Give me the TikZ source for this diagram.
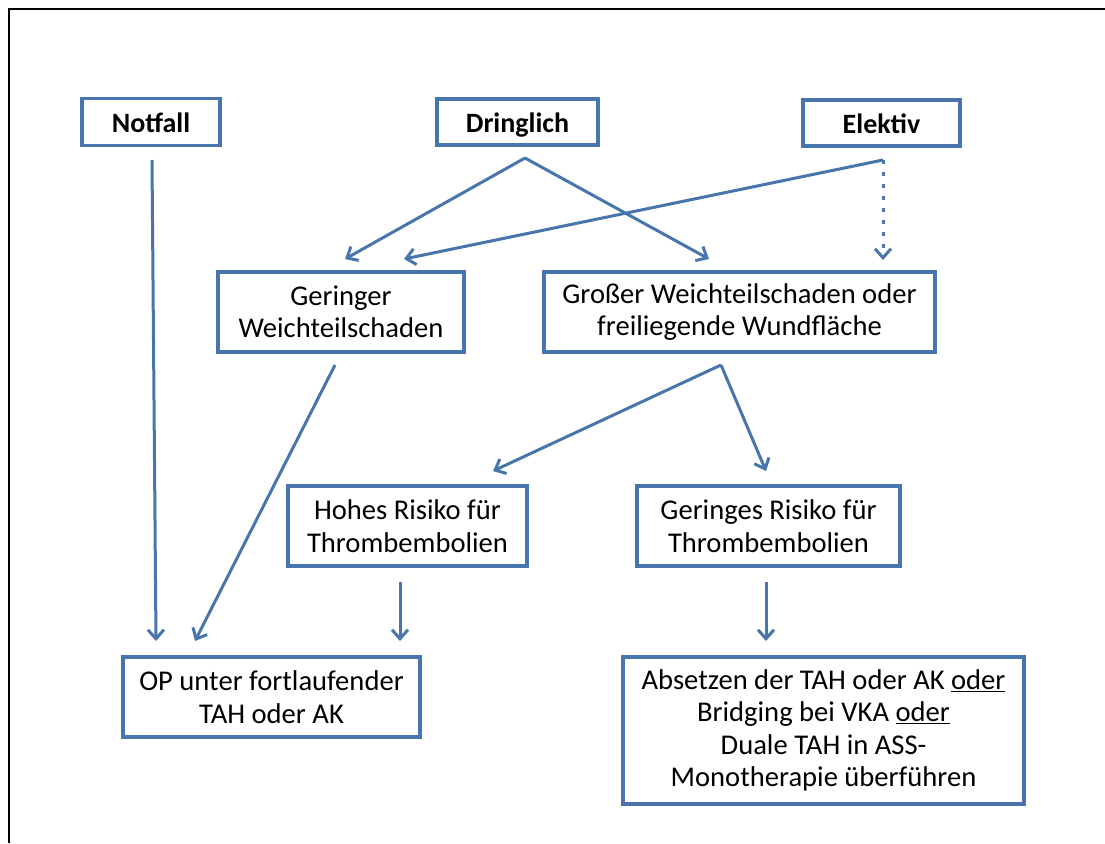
\documentclass[tikz,border=0pt]{standalone}
\usepackage{fontspec}
\setmainfont{Carlito}
\usetikzlibrary{arrows.meta}
\definecolor{boxblue}{RGB}{72,118,172}
\tikzset{
  box/.style={draw=boxblue, line width=3.4pt, rectangle, inner sep=0pt, align=center,
    font=\fontsize{28.6}{32.5}\selectfont},
  hbox/.style={box, text height=20pt, text depth=0pt, font=\fontsize{28}{32.5}\selectfont\bfseries},
  conn/.style={draw=boxblue, line width=3pt, -{Straight Barb[length=9pt,width=16pt,line width=3pt]}},
  dotconn/.style={conn, dash pattern=on 3.5pt off 8.5pt},
}
\begin{document}
\begin{tikzpicture}[x=1pt,y=-1pt]
\useasboundingbox (0,0) rectangle (1105,843);
\draw[line width=2.5pt] (9,843) -- (9,9) -- (1106,9);

\node[hbox, minimum width=138pt, minimum height=47pt] (notfall) at (151,122) {Notfall};
\node[hbox, minimum width=161pt, minimum height=46pt] (dring) at (517.5,122) {Dringlich};
\node[hbox, minimum width=157pt, minimum height=46pt] (elek) at (881.5,123) {Elektiv};

\node[box, minimum width=246pt, minimum height=80pt] (gering) at (341,312) {Geringer\\Weichteilschaden};
\node[box, minimum width=391pt, minimum height=80pt] (gross) at (739.5,312) {Großer Weichteilschaden oder\\freiliegende Wundfläche};

\node[box, minimum width=239pt, minimum height=80pt] (hohes) at (407.5,526) {Hohes Risiko für\\Thrombembolien};
\node[box, minimum width=263pt, minimum height=80pt] (geringes) at (768.5,526) {Geringes Risiko für\\Thrombembolien};

\node[box, minimum width=297pt, minimum height=80pt] (op) at (271.5,697) {OP unter fortlaufender\\TAH oder AK};
\node[box, minimum width=401pt, minimum height=147pt] (abs) at (823.5,730.5) {Absetzen der TAH oder AK \underline{oder}\\Bridging bei VKA \underline{oder}\\Duale TAH in ASS-\\Monotherapie überführen};

% connector end points
\coordinate (nfS) at (152,160);
\coordinate (opA) at (156,641);
\coordinate (drS) at (525,158);
\coordinate (gerA) at (345,259);
\coordinate (grA) at (709,259);
\coordinate (elS) at (883,160);
\coordinate (gerB) at (404,259);
\coordinate (grB) at (883,260);
\coordinate (gerS) at (335,365);
\coordinate (opB) at (195,641);
\coordinate (grS) at (721,365);
\coordinate (hoA) at (493,471);
\coordinate (geA) at (766,471);
\coordinate (hoS) at (400,582);
\coordinate (opC) at (400,641);
\coordinate (geS) at (766,582);
\coordinate (abA) at (766,641);

\draw[conn] (nfS) -- (opA);
\draw[conn] (drS) -- (gerA);
\draw[conn] (drS) -- (grA);
\draw[conn] (elS) -- (gerB);
\draw[dotconn] (elS) -- (grB);
\draw[conn] (gerS) -- (opB);
\draw[conn] (grS) -- (hoA);
\draw[conn] (grS) -- (geA);
\draw[conn] (hoS) -- (opC);
\draw[conn] (geS) -- (abA);
\end{tikzpicture}
\end{document}
